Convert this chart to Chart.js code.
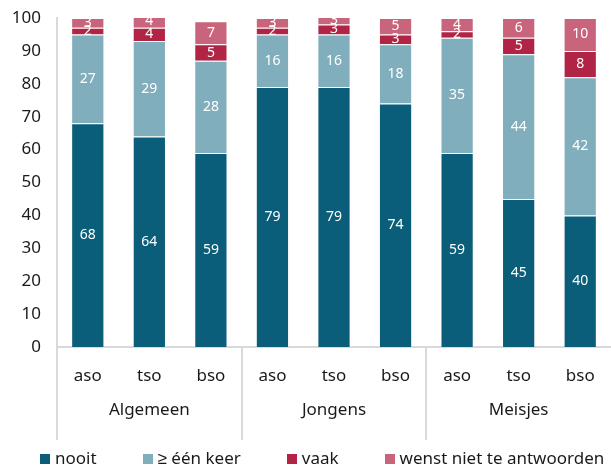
<!DOCTYPE html>
<html>
<head>
<meta charset="utf-8">
<script src="https://cdn.jsdelivr.net/npm/chart.js@4.4.1/dist/chart.umd.min.js"></script>
<style>
  html, body { margin: 0; padding: 0; background: #fff; }
  #wrap { position: relative; width: 611px; height: 468px; }
  #legend {
    position: absolute; left: 40px; top: 447px;
    display: flex; gap: 46px;
    font: 17px/22px "Noto Sans", sans-serif; color: #1a1a1a;
    white-space: nowrap;
  }
  #legend span.box { display: inline-block; width: 10px; height: 10px; margin-right: 5px; vertical-align: 0px; }
</style>
</head>
<body>
<div id="wrap">
  <canvas id="chart"></canvas>
  <div id="legend"></div>
</div>
<script>
'use strict';

// categories
var schools = ['aso', 'tso', 'bso', 'aso', 'tso', 'bso', 'aso', 'tso', 'bso'];
var groups = ['Algemeen', 'Jongens', 'Meisjes'];

// series (percent)
var nooit = [68, 64, 59, 79, 79, 74, 59, 45, 40];
var eenKeer = [27, 29, 28, 16, 16, 18, 35, 44, 42];
var vaak = [2, 4, 5, 2, 3, 3, 2, 5, 8];
var wenstNiet = [3, 4, 7, 3, 3, 5, 4, 6, 10];

var gridGrey = '#d9d9d9';
var textColor = '#1a1a1a';

Chart.defaults.font.family = '"Noto Sans", sans-serif';
Chart.defaults.font.size = 17;
Chart.defaults.color = textColor;

// white value labels in the middle of each segment
var segmentLabels = {
    id: 'segmentLabels',
    afterDatasetsDraw: function (chart) {
        var ctx = chart.ctx;
        ctx.save();
        ctx.font = '14px "Noto Sans", sans-serif';
        ctx.fillStyle = '#ffffff';
        ctx.textAlign = 'center';
        ctx.textBaseline = 'middle';
        chart.data.datasets.forEach(function (ds, di) {
            chart.getDatasetMeta(di).data.forEach(function (bar, i) {
                ctx.fillText(ds.data[i], bar.x, (bar.y + bar.base) / 2);
            });
        });
        ctx.restore();
    }
};

function set(label, data, color) {
    return {
        label: label,
        data: data,
        backgroundColor: color,
        borderColor: 'rgba(255,255,255,0.45)',
        borderWidth: 1,
        barPercentage: 0.54,
        categoryPercentage: 1
    };
}

// no extra room for overhanging labels
function noPad(s) {
    s.paddingLeft = s.paddingRight = s.paddingTop = s.paddingBottom = 0;
}

var chart = new Chart(document.getElementById('chart'), {
    type: 'bar',
    data: {
        labels: schools,
        datasets: [
            set('nooit', nooit, '#0b5e79'),
            set('\u2265 één keer', eenKeer, '#80aebd'),
            set('vaak', vaak, '#b12446'),
            set('wenst niet te antwoorden', wenstNiet, '#c8647b')
        ]
    },
    options: {
        responsive: true,
        maintainAspectRatio: false,
        animation: false,
        layout: { padding: { left: 0, right: 0, top: 18, bottom: 28 } },
        scales: {
            x: {
                stacked: true,
                grid: {
                    offset: true,
                    drawOnChartArea: false,
                    tickLength: 93,
                    lineWidth: 2,
                    color: function (c) {
                        return (c.index !== undefined && c.index % 3 === 0) ? gridGrey : 'rgba(0,0,0,0)';
                    }
                },
                border: { display: true, color: gridGrey, width: 2 },
                ticks: { padding: -74, color: textColor },
                afterFit: function (s) { noPad(s); s.height = 39; }
            },
            x2: {
                type: 'category',
                labels: groups,
                position: 'bottom',
                offset: true,
                grid: { display: false, drawTicks: false },
                border: { display: false },
                ticks: { padding: 14, color: textColor },
                afterFit: function (s) { noPad(s); s.height = 54; }
            },
            y: {
                stacked: true,
                min: 0,
                max: 100,
                grid: { display: false, drawTicks: false },
                border: { display: true, color: gridGrey, width: 2 },
                ticks: { stepSize: 10, padding: 16, color: textColor },
                afterFit: function (s) { noPad(s); s.width = 57; }
            }
        },
        plugins: {
            legend: { display: false },
            tooltip: { enabled: false }
        }
    },
    plugins: [segmentLabels]
});

// html legend built from the datasets
var legend = document.getElementById('legend');
chart.data.datasets.forEach(function (ds) {
    var item = document.createElement('div');
    var box = document.createElement('span');
    box.className = 'box';
    box.style.background = ds.backgroundColor;
    item.appendChild(box);
    item.appendChild(document.createTextNode(ds.label));
    legend.appendChild(item);
});
</script>
</body>
</html>
